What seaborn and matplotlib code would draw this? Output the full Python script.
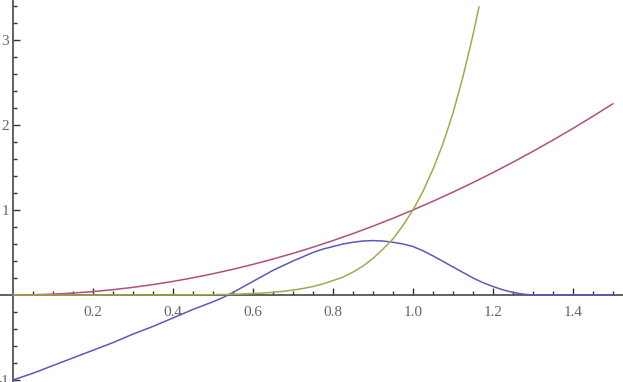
import numpy as np
import pandas as pd
import matplotlib
matplotlib.use("Agg")
import matplotlib.pyplot as plt
from matplotlib.ticker import FixedLocator
import seaborn as sns

sns.set_style("white")
plt.rcParams['font.family'] = ['Liberation Serif', 'DejaVu Serif']

# ---- data ----
x_red = [0.00, 0.05, 0.10, 0.15, 0.20, 0.25, 0.30, 0.35, 0.40, 0.45, 0.50,
         0.55, 0.60, 0.65, 0.70, 0.75, 0.80, 0.85, 0.90, 0.95, 1.00,
         1.05, 1.10, 1.15, 1.20, 1.25, 1.30, 1.35, 1.40, 1.45, 1.50]
y_red = [0.0, 0.0025, 0.01, 0.0225, 0.04, 0.0625, 0.09, 0.1225, 0.16, 0.2025, 0.25,
         0.3025, 0.36, 0.4225, 0.49, 0.5625, 0.64, 0.7225, 0.81, 0.9025, 1.0,
         1.1025, 1.21, 1.3225, 1.44, 1.5625, 1.69, 1.8225, 1.96, 2.1025, 2.25]

x_olive = [0.00, 0.10, 0.20, 0.30, 0.40, 0.45, 0.50, 0.55, 0.60, 0.625, 0.65, 0.675,
           0.70, 0.725, 0.75, 0.775, 0.80, 0.825, 0.85, 0.875, 0.90, 0.925, 0.95,
           0.975, 1.00, 1.025, 1.05, 1.075, 1.10, 1.125, 1.15, 1.165]
y_olive = [0.0, 0.0, 0.0, 0.0001, 0.0007, 0.0017, 0.004, 0.008, 0.017, 0.023, 0.032, 0.043,
           0.058, 0.076, 0.10, 0.13, 0.17, 0.21, 0.27, 0.34, 0.43, 0.54, 0.66,
           0.82, 1.0, 1.22, 1.48, 1.78, 2.14, 2.57, 3.06, 3.39]

x_blue = [0.00, 0.05, 0.10, 0.15, 0.20, 0.25, 0.30, 0.35, 0.40, 0.45, 0.50,
          0.525, 0.55, 0.575, 0.60, 0.625, 0.65, 0.675, 0.70, 0.725, 0.75,
          0.775, 0.80, 0.825, 0.85, 0.875, 0.90, 0.925, 0.95, 0.975, 1.00,
          1.025, 1.05, 1.075, 1.10, 1.125, 1.15, 1.175, 1.20, 1.225, 1.25,
          1.275, 1.30, 1.35, 1.40, 1.45, 1.50]
y_blue = [-1.00, -0.92, -0.83, -0.74, -0.65, -0.56, -0.46, -0.37, -0.27, -0.17, -0.08,
          -0.03, 0.03, 0.095, 0.16, 0.225, 0.29, 0.345, 0.40, 0.45, 0.50,
          0.54, 0.57, 0.60, 0.62, 0.635, 0.64, 0.635, 0.62, 0.60, 0.57,
          0.52, 0.46, 0.395, 0.33, 0.265, 0.20, 0.145, 0.10, 0.06, 0.03,
          0.01, 0.0, 0.0, 0.0, 0.0, 0.0]

x_tick_labels = ["0.2", "0.4", "0.6", "0.8", "1.0", "1.2", "1.4"]
y_tick_labels = ["-1", "1", "2", "3"]

df = pd.concat([
    pd.DataFrame({"x": x_blue, "y": y_blue, "s": "blue"}),
    pd.DataFrame({"x": x_red, "y": y_red, "s": "red"}),
    pd.DataFrame({"x": x_olive, "y": y_olive, "s": "olive"}),
])

colors = {"blue": "#5a5abb", "red": "#b04f80", "olive": "#a9a64c"}

fig = plt.figure(figsize=(6.23, 3.82), dpi=100)
ax = fig.add_axes([0, 0, 1, 1])

sns.lineplot(data=df, x="x", y="y", hue="s", palette=colors, sort=False,
             estimator=None, linewidth=1.1, legend=False, ax=ax)

ax.set_xlim(-0.0325, 1.525)
ax.set_ylim(-1.0235, 3.47)

for s in ["top", "right"]:
    ax.spines[s].set_visible(False)
ax.spines["left"].set_position(("data", 0))
ax.spines["bottom"].set_position(("data", 0))
for s in ["left", "bottom"]:
    ax.spines[s].set_color("#555555")
    ax.spines[s].set_linewidth(1.3)
    ax.spines[s].set_zorder(1)

xt = [float(t) for t in x_tick_labels]
yt = [float(t) for t in y_tick_labels]
ax.xaxis.set_major_locator(FixedLocator(xt))
ax.set_xticklabels(x_tick_labels)
ax.xaxis.set_minor_locator(FixedLocator([i * 0.05 for i in range(1, 31) if i % 4 != 0]))
ax.yaxis.set_major_locator(FixedLocator(yt))
ax.set_yticklabels(y_tick_labels)
ax.yaxis.set_minor_locator(FixedLocator([round(i * 0.2, 2) for i in range(-5, 18) if i % 5 != 0]))

ax.tick_params(axis="both", which="both", bottom=True, left=True, top=False, right=False)
ax.tick_params(axis="both", which="major", direction="in", length=5, width=1.0,
               color="#333333", labelsize=11, labelcolor="#666666")
ax.tick_params(axis="both", which="minor", direction="in", length=3, width=1.0,
               color="#333333")
ax.tick_params(axis="x", which="major", pad=8)
ax.tick_params(axis="y", which="major", pad=3)

ax.set_xlabel("")
ax.set_ylabel("")
ax.grid(False)

fig.savefig("out.png", dpi=100)
